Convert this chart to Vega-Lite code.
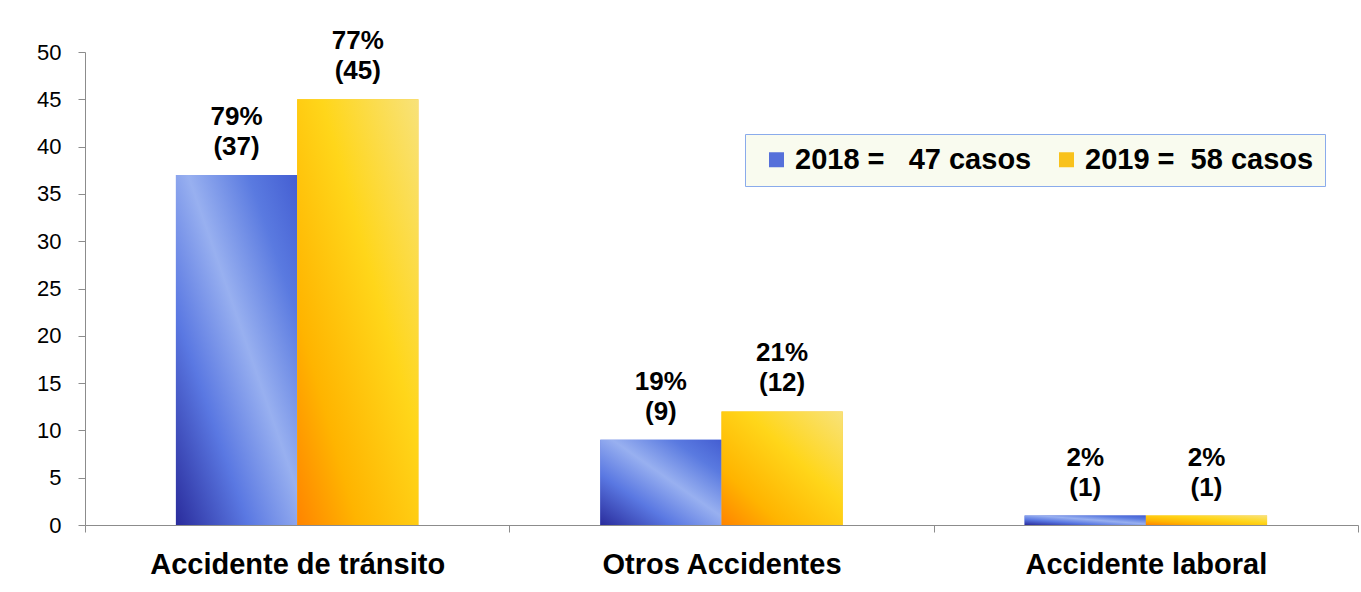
{
  "$schema": "https://vega.github.io/schema/vega-lite/v6.json",
  "autosize": "none",
  "width": 1273,
  "height": 473,
  "padding": {"left": 85, "top": 52, "right": 3, "bottom": 67},
  "background": "white",
  "config": {
    "font": "Liberation Sans",
    "view": {"stroke": null},
    "axis": {"grid": false, "domainColor": "#8c8c8c", "tickColor": "#8c8c8c", "labelColor": "#000000", "tickSize": 7}
  },
  "data": {
    "values": [
      {"categoria": "Accidente de tránsito", "serie": "2018 =\u00a0\u00a0 47 casos", "anio": "2018", "casos": 37, "etiqueta": "79%\n(37)"},
      {"categoria": "Accidente de tránsito", "serie": "2019 =\u00a0 58 casos", "anio": "2019", "casos": 45, "etiqueta": "77%\n(45)"},
      {"categoria": "Otros Accidentes", "serie": "2018 =\u00a0\u00a0 47 casos", "anio": "2018", "casos": 9, "etiqueta": "19%\n(9)"},
      {"categoria": "Otros Accidentes", "serie": "2019 =\u00a0 58 casos", "anio": "2019", "casos": 12, "etiqueta": "21%\n(12)"},
      {"categoria": "Accidente laboral", "serie": "2018 =\u00a0\u00a0 47 casos", "anio": "2018", "casos": 1, "etiqueta": "2%\n(1)"},
      {"categoria": "Accidente laboral", "serie": "2019 =\u00a0 58 casos", "anio": "2019", "casos": 1, "etiqueta": "2%\n(1)"}
    ]
  },
  "encoding": {
    "x": {
      "field": "categoria", "type": "nominal", "sort": null, "title": null,
      "scale": {"paddingInner": 0, "paddingOuter": 0},
      "axis": {"labelAngle": 0, "labelFontSize": 29, "labelFontWeight": "bold", "labelPadding": 18, "labelLimit": 600, "tickBand": "extent"}
    },
    "xOffset": {"field": "anio", "type": "nominal", "scale": {"domain": ["2018", "2019"], "paddingInner": 0, "paddingOuter": 0.75}},
    "y": {
      "field": "casos", "type": "quantitative", "title": null,
      "scale": {"domain": [0, 50], "nice": false},
      "axis": {"values": [0, 5, 10, 15, 20, 25, 30, 35, 40, 45, 50], "labelFontSize": 22, "labelPadding": 17}
    }
  },
  "layer": [
    {
      "mark": {"type": "bar"},
      "encoding": {
        "color": {
          "field": "serie", "type": "nominal", "title": null,
          "scale": {"range": ["#5670da", "#f9c21c"]},
          "legend": {
            "orient": "none", "legendX": 660, "legendY": 82, "direction": "horizontal",
            "fillColor": "#f9fbef", "strokeColor": "#8aabeb", "padding": 11,
            "symbolType": "square", "symbolSize": 225, "symbolStrokeWidth": 0,
            "labelFontSize": 29, "labelFontWeight": "bold", "labelColor": "#000000",
            "labelLimit": 400, "labelOffset": 4, "columnPadding": 14, "symbolOffset": 6
          }
        }
      }
    },
    {
      "transform": [{"filter": "datum.anio === '2018'"}],
      "mark": {
        "type": "bar",
        "color": {
          "gradient": "linear", "x1": 0, "y1": 1, "x2": 1, "y2": 0,
          "stops": [
            {"offset": 0, "color": "#2a2c9c"},
            {"offset": 0.3, "color": "#5a78e2"},
            {"offset": 0.55, "color": "#98b0f0"},
            {"offset": 0.8, "color": "#5a7ae0"},
            {"offset": 1, "color": "#445ed2"}
          ]
        }
      }
    },
    {
      "transform": [{"filter": "datum.anio === '2019'"}],
      "mark": {
        "type": "bar",
        "color": {
          "gradient": "linear", "x1": 0, "y1": 1, "x2": 1, "y2": 0,
          "stops": [
            {"offset": 0, "color": "#ff8400"},
            {"offset": 0.25, "color": "#ffb400"},
            {"offset": 0.6, "color": "#ffd61a"},
            {"offset": 1, "color": "#f8e27a"}
          ]
        }
      }
    },
    {
      "mark": {"type": "text", "baseline": "bottom", "lineBreak": "\n", "lineHeight": 30, "fontSize": 26, "fontWeight": "bold", "color": "#000000", "dy": -45},
      "encoding": {"text": {"field": "etiqueta"}}
    }
  ]
}
